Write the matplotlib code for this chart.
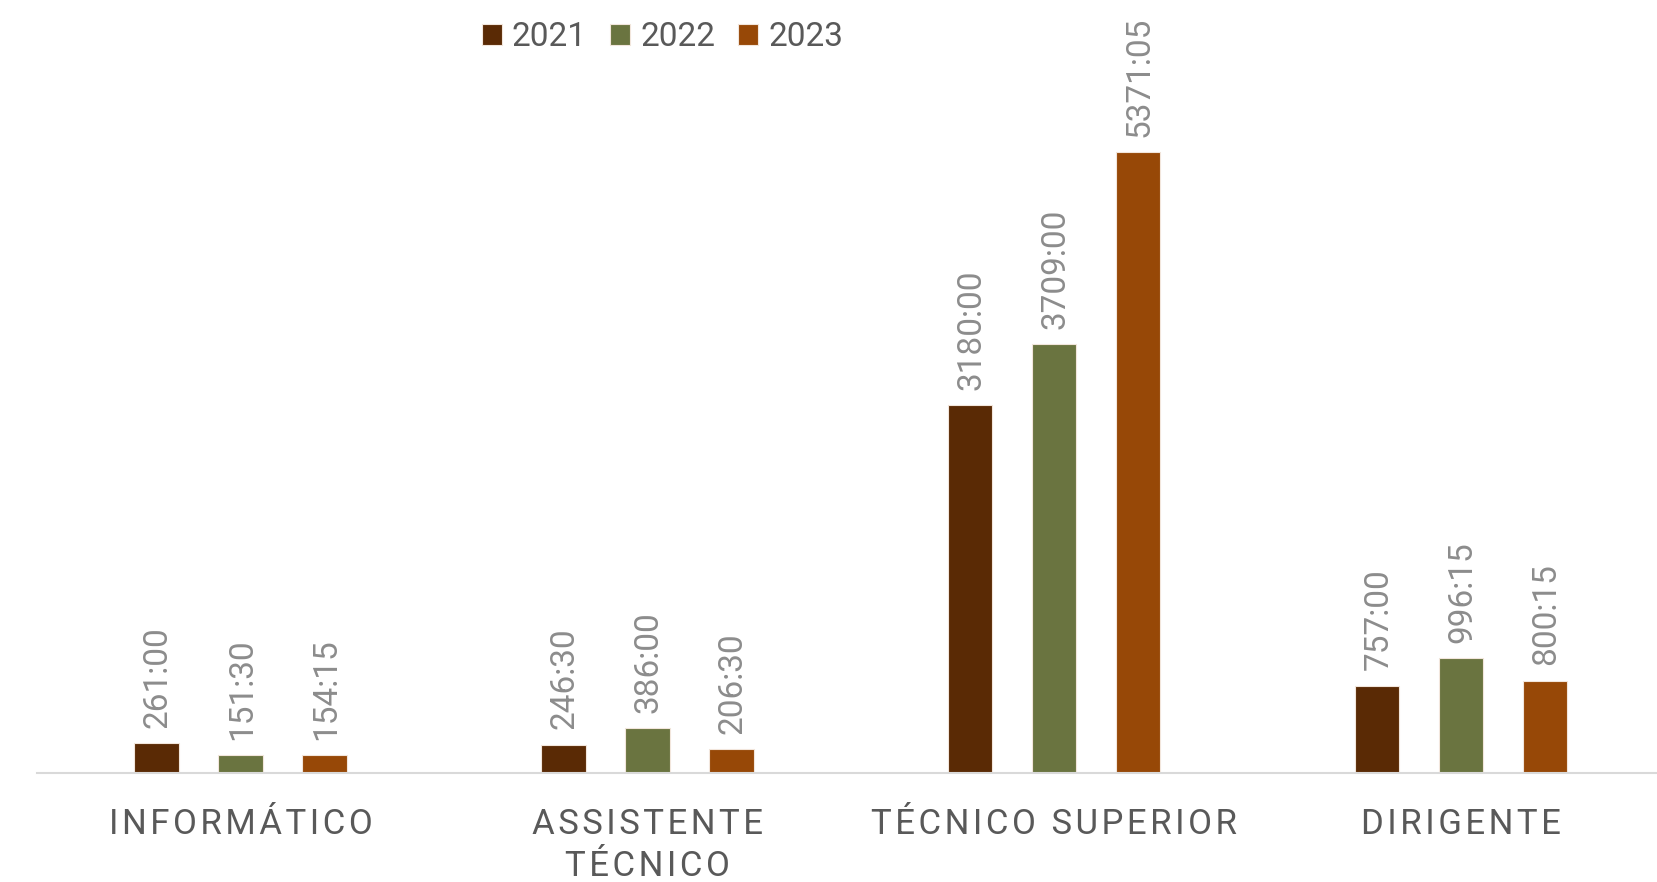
import matplotlib
matplotlib.use("Agg")
import matplotlib.pyplot as plt
import numpy as np

plt.rcParams['font.family'] = ['Roboto', 'DejaVu Sans']

categories = ["INFORMÁTICO", "ASSISTENTE\nTÉCNICO", "TÉCNICO SUPERIOR", "DIRIGENTE"]
years = ["2021", "2022", "2023"]
labels_2021 = ["261:00", "246:30", "3180:00", "757:00"]
labels_2022 = ["151:30", "386:00", "3709:00", "996:15"]
labels_2023 = ["154:15", "206:30", "5371:05", "800:15"]
colors = ["#5A2A05", "#6A7440", "#974807"]


def to_hours(s):
    h, m = s.split(":")
    return int(h) + int(m) / 60.0


def spaced(s):
    return "\n".join("\u200a".join(line) for line in s.split("\n"))


series_labels = [labels_2021, labels_2022, labels_2023]
series_values = [[to_hours(s) for s in lab] for lab in series_labels]

W, H = 1657, 882
fig = plt.figure(figsize=(W / 100, H / 100), dpi=100)
ax = fig.add_axes([37 / W, 109 / H, 1 - 37 / W, 1 - 109 / H])

x = np.arange(len(categories))
offset = 0.2064
width = 0.109
for i, (vals, labs, col, yr) in enumerate(zip(series_values, series_labels, colors, years)):
    pos = x + (i - 1) * offset
    ax.bar(pos, vals, width=width, color=col, edgecolor="#f2e6dc", linewidth=0.8, label=yr)
    for xp, v, t in zip(pos, vals, labs):
        ax.annotate(t, (xp, v), xytext=(1, 11), textcoords="offset points",
                    rotation=90, ha="center", va="bottom", fontsize=24,
                    color="#8c8c8c")

ax.set_xlim(-0.5, -0.5 + (W - 37) / 406.9)
ax.set_ylim(0, 773 / 0.11557)
for s in ["top", "right", "left"]:
    ax.spines[s].set_visible(False)
ax.spines["bottom"].set_color("#d9d9d9")
ax.spines["bottom"].set_linewidth(1.5)
ax.set_yticks([])
ax.set_xticks(x)
ax.set_xticklabels([spaced(c) for c in categories], fontsize=25, color="#595959",
                   linespacing=1.35)
ax.tick_params(axis="x", length=0, pad=25)

leg = fig.legend(loc="center", bbox_to_anchor=(662.5 / W, 1 - 37 / H), ncol=3, frameon=False,
                 fontsize=24, handlelength=0.6, handleheight=0.6, handletextpad=0.3,
                 columnspacing=0.7, labelcolor="#595959")

fig.savefig("out.png", dpi=100)
